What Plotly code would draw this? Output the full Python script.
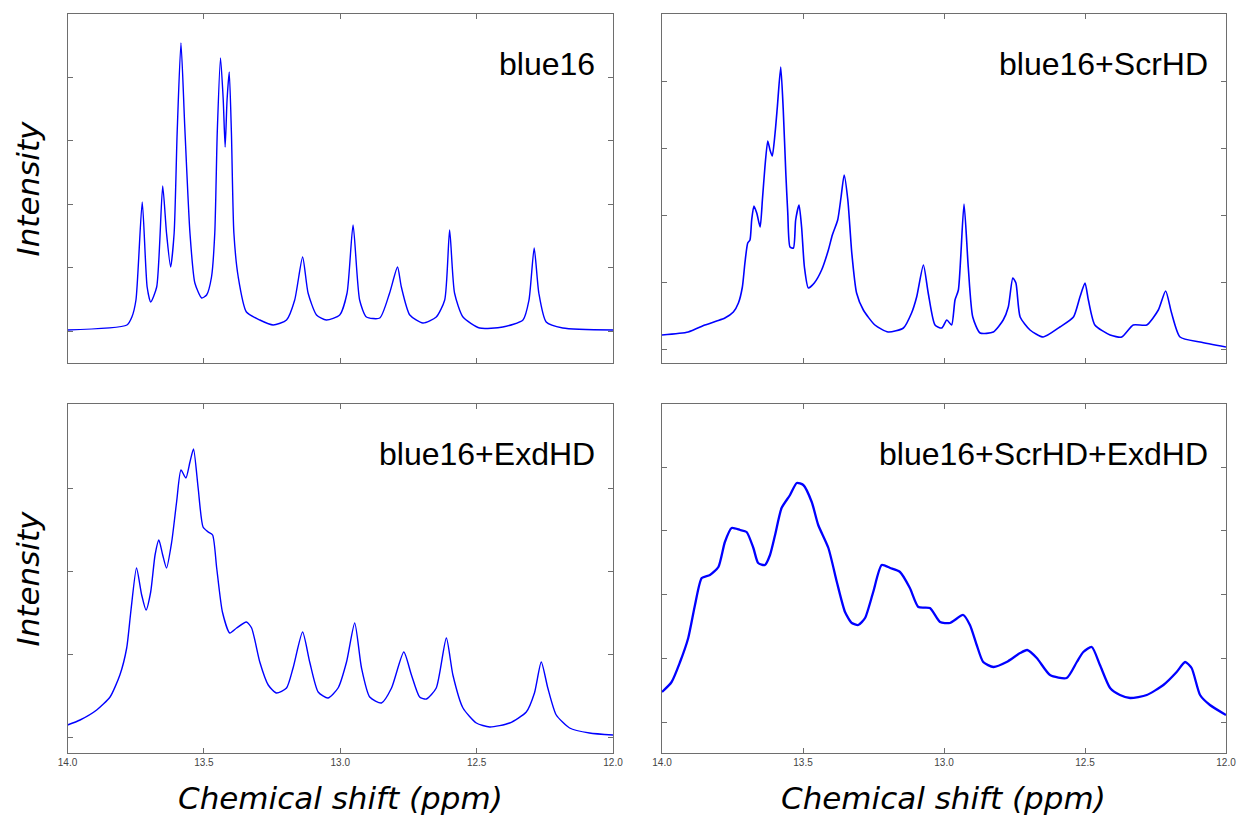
import plotly.graph_objects as go

# Spectra traced as (chemical shift in ppm, intensity in a.u.) pairs

blue16_ppm = [14.00, 13.782, 13.764, 13.749, 13.726, 13.708, 13.695, 13.673, 13.651, 13.637,
              13.622, 13.609, 13.598, 13.584, 13.570, 13.551, 13.533, 13.508, 13.490, 13.472,
              13.460, 13.451, 13.439, 13.429, 13.422, 13.415, 13.407, 13.399, 13.390, 13.374,
              13.344, 13.295, 13.246, 13.197, 13.167, 13.138, 13.118, 13.087, 13.051, 13.002,
              12.975, 12.953, 12.929, 12.904, 12.855, 12.819, 12.790, 12.776, 12.745, 12.697,
              12.648, 12.617, 12.599, 12.581, 12.550, 12.489, 12.404, 12.330, 12.308, 12.289,
              12.272, 12.245, 12.184, 12.00]
blue16_int = [0.33, 0.38, 0.46, 0.63, 1.61, 0.76, 0.61, 0.76, 1.77, 1.30,
              0.96, 1.30, 2.30, 3.20, 2.36, 1.30, 0.80, 0.65, 0.68, 0.86,
              1.30, 2.30, 3.05, 2.63, 2.16, 2.63, 2.91, 2.30, 1.30, 0.86,
              0.51, 0.43, 0.38, 0.43, 0.63, 1.06, 0.70, 0.48, 0.43, 0.48,
              0.70, 1.38, 0.63, 0.46, 0.45, 0.70, 0.96, 0.76, 0.48, 0.40,
              0.46, 0.63, 1.33, 0.70, 0.46, 0.35, 0.36, 0.43, 0.63, 1.15,
              0.70, 0.41, 0.35, 0.33]

scr_ppm = [14.00, 13.907, 13.848, 13.806, 13.777, 13.747, 13.729, 13.715, 13.706, 13.696,
           13.688, 13.682, 13.674, 13.664, 13.652, 13.644, 13.635, 13.625, 13.617, 13.609,
           13.599, 13.591, 13.579, 13.570, 13.561, 13.554, 13.546, 13.534, 13.526, 13.514,
           13.505, 13.495, 13.481, 13.460, 13.434, 13.410, 13.396, 13.377, 13.365, 13.354,
           13.341, 13.327, 13.310, 13.286, 13.245, 13.198, 13.144, 13.115, 13.097, 13.073,
           13.056, 13.032, 13.008, 12.990, 12.973, 12.961, 12.949, 12.929, 12.914, 12.898,
           12.872, 12.825, 12.790, 12.772, 12.756, 12.745, 12.730, 12.695, 12.648, 12.589,
           12.541, 12.518, 12.500, 12.488, 12.465, 12.411, 12.370, 12.329, 12.281, 12.240,
           12.214, 12.193, 12.163, 12.092, 12.00]
scr_int = [0.28, 0.31, 0.38, 0.42, 0.45, 0.51, 0.60, 0.76, 1.00, 1.20,
           1.23, 1.43, 1.57, 1.50, 1.36, 1.63, 1.96, 2.22, 2.13, 2.07,
           2.30, 2.56, 2.96, 2.53, 1.90, 1.50, 1.16, 1.15, 1.43, 1.58,
           1.36, 0.96, 0.75, 0.80, 0.93, 1.13, 1.28, 1.43, 1.66, 1.88,
           1.63, 1.10, 0.70, 0.53, 0.38, 0.31, 0.35, 0.50, 0.66, 0.98,
           0.70, 0.38, 0.35, 0.43, 0.38, 0.63, 0.73, 1.59, 0.96, 0.46,
           0.30, 0.31, 0.43, 0.56, 0.85, 0.80, 0.46, 0.33, 0.26, 0.36,
           0.46, 0.66, 0.80, 0.63, 0.38, 0.28, 0.26, 0.38, 0.38, 0.53,
           0.72, 0.50, 0.26, 0.21, 0.16]

exd_ppm = [14.00, 13.954, 13.893, 13.844, 13.808, 13.783, 13.768, 13.747, 13.728, 13.712,
           13.695, 13.679, 13.665, 13.651, 13.637, 13.618, 13.600, 13.584, 13.566, 13.551,
           13.538, 13.521, 13.503, 13.484, 13.468, 13.453, 13.432, 13.405, 13.380, 13.344,
           13.325, 13.295, 13.264, 13.234, 13.197, 13.173, 13.138, 13.112, 13.081, 13.045,
           13.008, 12.977, 12.947, 12.922, 12.892, 12.849, 12.812, 12.767, 12.739, 12.709,
           12.684, 12.648, 12.611, 12.587, 12.550, 12.501, 12.452, 12.379, 12.318, 12.288,
           12.263, 12.239, 12.208, 12.159, 12.086, 12.00]
exd_int = [0.28, 0.33, 0.43, 0.56, 0.78, 1.05, 1.41, 1.85, 1.58, 1.43,
           1.61, 1.98, 2.13, 1.98, 1.85, 2.11, 2.51, 2.83, 2.75, 2.91,
           3.04, 2.65, 2.26, 2.21, 2.18, 1.85, 1.41, 1.20, 1.25, 1.31,
           1.25, 0.91, 0.68, 0.60, 0.65, 0.85, 1.21, 0.91, 0.61, 0.55,
           0.65, 0.91, 1.30, 0.85, 0.56, 0.50, 0.65, 1.01, 0.78, 0.56,
           0.54, 0.65, 1.15, 0.78, 0.45, 0.30, 0.26, 0.30, 0.41, 0.60,
           0.91, 0.65, 0.38, 0.25, 0.20, 0.18]

both_ppm = [14.00, 13.966, 13.936, 13.907, 13.883, 13.859, 13.830, 13.800, 13.777, 13.753,
            13.723, 13.700, 13.676, 13.659, 13.635, 13.617, 13.599, 13.576, 13.546, 13.522,
            13.499, 13.469, 13.446, 13.410, 13.380, 13.351, 13.327, 13.304, 13.280, 13.251,
            13.221, 13.191, 13.156, 13.121, 13.091, 13.050, 13.014, 12.979, 12.932, 12.908,
            12.884, 12.861, 12.825, 12.778, 12.730, 12.705, 12.671, 12.624, 12.565, 12.529,
            12.506, 12.476, 12.447, 12.411, 12.376, 12.340, 12.281, 12.222, 12.175, 12.145,
            12.122, 12.092, 12.057, 12.00]
both_int = [0.61, 0.71, 0.91, 1.15, 1.48, 1.75, 1.78, 1.86, 2.11, 2.25,
            2.23, 2.21, 2.05, 1.90, 1.88, 1.98, 2.18, 2.45, 2.58, 2.70,
            2.68, 2.51, 2.28, 2.05, 1.71, 1.41, 1.30, 1.28, 1.35, 1.61,
            1.88, 1.85, 1.81, 1.65, 1.46, 1.45, 1.31, 1.30, 1.38, 1.28,
            1.08, 0.91, 0.86, 0.91, 1.00, 1.03, 0.95, 0.78, 0.75, 0.91,
            1.01, 1.06, 0.88, 0.65, 0.58, 0.55, 0.58, 0.68, 0.81, 0.91,
            0.85, 0.58, 0.48, 0.38]

sample_names = ["blue16", "blue16+ScrHD", "blue16+ExdHD", "blue16+ScrHD+ExdHD"]
shift_ticks = [14.0, 13.5, 13.0, 12.5, 12.0]
# first unlabeled intensity tick and tick spacing for each panel
intensity_tick0 = [0.32, 0.14, 0.16, 0.31]
intensity_dtick = [0.635, 0.67, 0.83, 0.637]

spectra = [(blue16_ppm, blue16_int), (scr_ppm, scr_int),
           (exd_ppm, exd_int), (both_ppm, both_int)]
line_widths = [1.4, 1.6, 1.4, 2.3]

W, H = 1240, 817
x_domains = [[67.5 / W, 613 / W], [662 / W, 1226 / W]]
y_domains = [[1 - 363 / H, 1 - 14 / H], [1 - 753 / H, 1 - 404 / H]]

fig = go.Figure()
frame = dict(showline=True, linecolor="#6e6e6e", linewidth=1.3, mirror="ticks",
             ticks="inside", ticklen=5, tickwidth=1, tickcolor="#6e6e6e",
             showgrid=False, zeroline=False, automargin=False)

annotations = []
for i, (ppm, inten) in enumerate(spectra):
    row, col = divmod(i, 2)
    sfx = "" if i == 0 else str(i + 1)
    fig.add_trace(go.Scatter(x=ppm, y=inten, mode="lines",
                             line=dict(color="#0000ff", width=line_widths[i],
                                       shape="spline", smoothing=0.6),
                             xaxis="x" + sfx, yaxis="y" + sfx, showlegend=False,
                             hoverinfo="skip"))
    fig.layout["xaxis" + sfx] = dict(
        frame, domain=x_domains[col], anchor="y" + sfx, range=[14.0, 12.0],
        tickvals=shift_ticks, ticktext=[f"{t:.1f}" for t in shift_ticks],
        showticklabels=(row == 1),
        tickfont=dict(family="Liberation Sans", size=10, color="#444444"))
    fig.layout["yaxis" + sfx] = dict(
        frame, domain=y_domains[row], anchor="x" + sfx, range=[0, 3.49],
        tick0=intensity_tick0[i], dtick=intensity_dtick[i], showticklabels=False)
    annotations.append(dict(
        text=sample_names[i], xref="paper", yref="paper",
        x=x_domains[col][1] - 16 / W, y=y_domains[row][1] - 50 / H,
        xanchor="right", yanchor="middle", showarrow=False,
        font=dict(family="Liberation Sans", size=32, color="#000000")))

for row in range(2):
    annotations.append(dict(
        text="Intensity", xref="paper", yref="paper",
        x=27 / W, y=sum(y_domains[row]) / 2, textangle=-90,
        xanchor="center", yanchor="middle", showarrow=False,
        font=dict(family="DejaVu Sans", size=31, style="italic", color="#000000")))
for col in range(2):
    annotations.append(dict(
        text="Chemical shift (ppm)", xref="paper", yref="paper",
        x=sum(x_domains[col]) / 2, y=1 - 798 / H,
        xanchor="center", yanchor="middle", showarrow=False,
        font=dict(family="DejaVu Sans", size=31, style="italic", color="#000000")))

fig.update_layout(width=W, height=H,
                  margin=dict(l=0, r=0, t=0, b=0, autoexpand=False),
                  paper_bgcolor="white", plot_bgcolor="white",
                  annotations=annotations)

fig.write_html("out.html")
